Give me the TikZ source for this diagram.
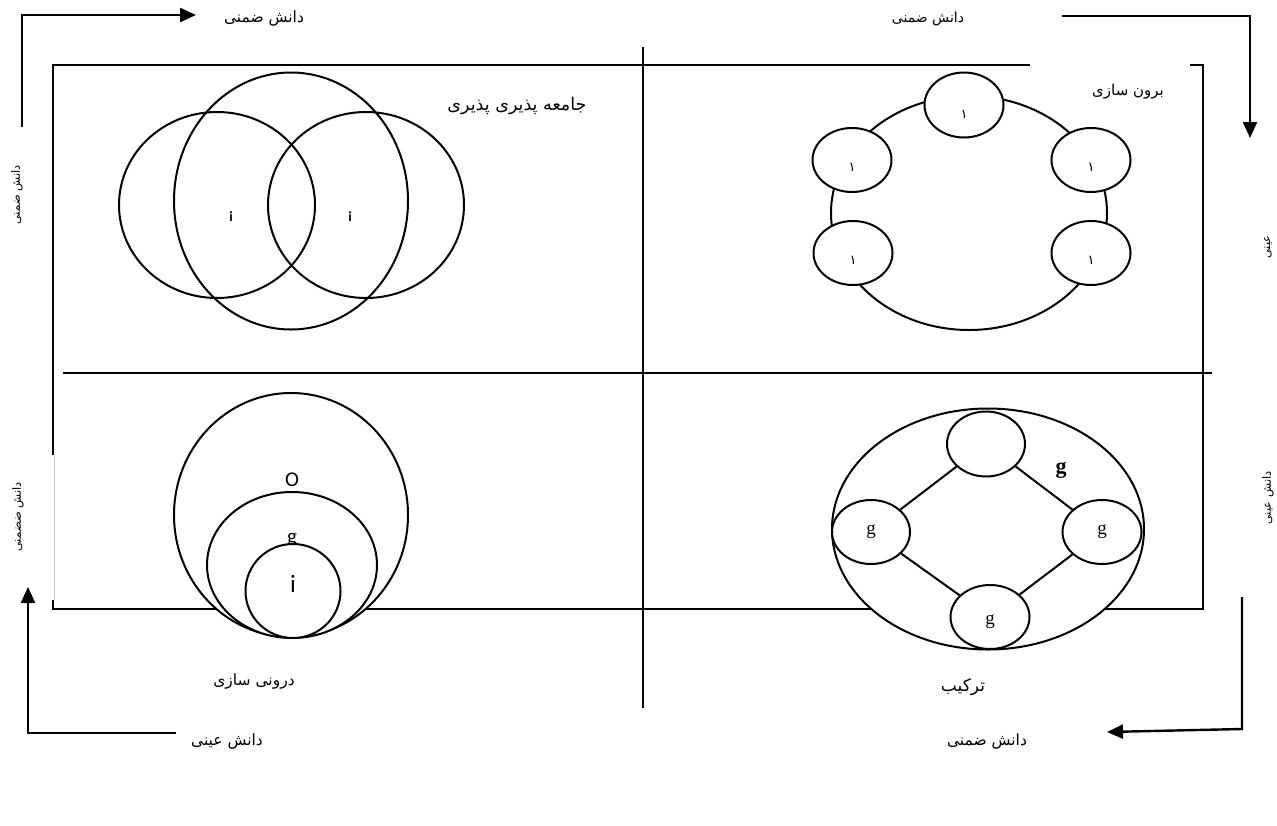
\documentclass[tikz,border=0pt]{standalone}
\usepackage{fontspec}
\usetikzlibrary{arrows.meta,shapes.geometric}
\TeXXeTstate=1
\newfontfamily\fa[Script=Arabic]{DejaVu Sans}
\newfontfamily\lat{Carlito}
\newfontfamily\ser{Liberation Serif}
\begin{document}
\begin{tikzpicture}[x=1pt,y=-1pt,
  ln/.style={line width=2pt},
  arr/.style={line width=2.4pt,-{Triangle[length=16pt,width=14pt]}},
  fatxt/.style={font=\fa\fontsize{15.5}{17}\selectfont, inner sep=1pt},
  sidetxt/.style={font=\fa\fontsize{11.5}{12}\selectfont, inner sep=1pt, rotate=90},
  ov/.style={ellipse, draw, line width=2pt, fill=white, inner sep=0pt},
  ring/.style={ellipse, draw, line width=2pt, inner sep=0pt},
  dig/.style={font=\fa\fontsize{13}{14}\selectfont, inner sep=0pt},
  sg/.style={font=\ser\fontsize{19}{20}\selectfont, inner sep=0pt},
]
\fill[white] (0,0) rectangle (1277,825);
\useasboundingbox (0,0) rectangle (1277,825);

% frame and quadrant lines
\draw[ln] (1030,65) -- (53,65) -- (53,455);
\draw[gray!45, line width=0.8pt] (54,455) -- (54,600);
\draw[ln] (53,600) -- (53,609) -- (1203,609) -- (1203,65) -- (1190,65);
\draw[ln] (643,47) -- (643,708);
\draw[ln] (63,373) -- (1212,373);

% top-left: overlapping circles
\node[ring, minimum width=196pt, minimum height=186pt] (c1) at (217,205) {};
\node[ring, minimum width=234pt, minimum height=257pt] (c2) at (291,201) {};
\node[ring, minimum width=196pt, minimum height=186pt] (c3) at (366,205) {};
\node[font=\lat\bfseries\fontsize{14}{15}\selectfont] (i1) at (231,217) {i};
\node[font=\lat\bfseries\fontsize{14}{15}\selectfont] (i2) at (350,217) {i};
\node[fatxt, font=\fa\fontsize{17.5}{19}\selectfont] (t5) at (517,106) {\beginR جامعه پذیری پذیری\endR};

% top-right: ring of ellipses
\node[ring, minimum width=276pt, minimum height=234pt] (r0) at (969,213) {};
\node[ov, minimum width=79pt, minimum height=65pt] (r1) at (964,105) {};
\node[ov, minimum width=79pt, minimum height=64pt] (r2) at (852,160) {};
\node[ov, minimum width=79pt, minimum height=64pt] (r3) at (1091,160) {};
\node[ov, minimum width=79pt, minimum height=64pt] (r4) at (853,253) {};
\node[ov, minimum width=79pt, minimum height=64pt] (r5) at (1091,253) {};
\node[dig] (d1) at ([yshift=-9pt]r1.center) {۱};
\node[dig] (d2) at ([yshift=-7pt]r2.center) {۱};
\node[dig] (d3) at ([yshift=-7pt]r3.center) {۱};
\node[dig] (d4) at ([yshift=-7pt]r4.center) {۱};
\node[dig] (d5) at ([yshift=-7pt]r5.center) {۱};
\node[fatxt, font=\fa\fontsize{15}{17}\selectfont] (t6) at (1128,92) {\beginR برون سازی\endR};

% bottom-left: nested circles
\node[ov, minimum width=234pt, minimum height=244pt] (n1) at (291,515) {};
\node[font=\lat\fontsize{21}{22}\selectfont, inner sep=0pt] (o1) at (292,480) {O};
\node[ov, minimum width=170pt, minimum height=146pt] (n2) at (292,565) {};
\node[font=\lat\fontsize{21}{22}\selectfont, inner sep=0pt] (g0) at (292,540) {g};
\node[ov, minimum width=95pt, minimum height=94pt] (n3) at (293,591) {};
\node[font=\lat\fontsize{25}{27}\selectfont, inner sep=0pt] (i3) at (293,584) {i};
\node[fatxt] (t7) at (254,681) {\beginR درونی سازی\endR};

% bottom-right: diamond of ellipses
\node[ov, minimum width=312pt, minimum height=241pt] (b0) at (988,529) {};
\node[ov, minimum width=78pt, minimum height=65pt] (b1) at (986,444) {};
\node[ov, minimum width=78pt, minimum height=64pt] (b2) at (871,532) {};
\node[ov, minimum width=79pt, minimum height=64pt] (b3) at (1102,532) {};
\node[ov, minimum width=79pt, minimum height=64pt] (b4) at (990,617) {};
\draw[ln] (b1) -- (b2);
\draw[ln] (b1) -- (b3);
\draw[ln] (b2) -- (b4);
\draw[ln] (b3) -- (b4);
\node[sg] (g2) at (b2) {g};
\node[sg] (g3) at (b3) {g};
\node[sg] (g4) at ([yshift=-5pt]b4.center) {g};
\node[font=\ser\bfseries\fontsize{22}{24}\selectfont, inner sep=0pt, fill=white] (g1) at (1061,470) {g};
\node[fatxt, font=\fa\fontsize{17}{19}\selectfont] (t8) at (963,687) {\beginR ترکیب\endR};

% outer arrows and labels
\coordinate (a1s) at (22,127); \coordinate (a1c) at (22,15); \coordinate (a1e) at (196,15);
\draw[arr] (a1s) -- (a1c) -- (a1e);
\node[fatxt, font=\fa\fontsize{15.5}{17}\selectfont] (t1) at (264,19) {\beginR دانش ضمنی\endR};

\coordinate (a2s) at (1062,16); \coordinate (a2c) at (1250,16); \coordinate (a2e) at (1250,138);
\draw[arr] (a2s) -- (a2c) -- (a2e);
\node[fatxt, font=\fa\fontsize{14}{16}\selectfont] (t2) at (928,19) {\beginR دانش ضمنی\endR};

\coordinate (a3s) at (1242,597); \coordinate (a3c) at (1242,729); \coordinate (a3e) at (1107,732);
\draw[arr] (a3s) -- (a3c) -- (a3e);
\node[fatxt] (t3) at (987,741) {\beginR دانش ضمنی\endR};

\coordinate (a4s) at (176,733); \coordinate (a4c) at (28,733); \coordinate (a4e) at (28,587);
\draw[arr] (a4s) -- (a4c) -- (a4e);
\node[fatxt] (t4) at (227,741) {\beginR دانش عینی\endR};

% side labels
\node[sidetxt] (s1) at (17,195) {\beginR دانش ضمنی\endR};
\node[sidetxt] (s2) at (18,517) {\beginR دانش ضضمنی\endR};
\node[sidetxt] (s3) at (1268,247) {\beginR عینی\endR};
\node[sidetxt] (s4) at (1268,498) {\beginR دانش عینی\endR};
\end{tikzpicture}
\end{document}
